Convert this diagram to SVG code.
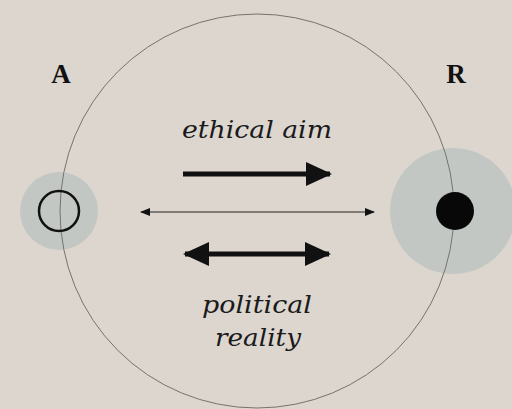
<svg xmlns="http://www.w3.org/2000/svg" width="512" height="409" viewBox="0 0 512 409">
<defs>
<style>
.lbl{font-family:"Liberation Serif","DejaVu Serif",serif;font-weight:bold;font-size:27px;fill:#111;text-anchor:middle}
.it{font-family:"DejaVu Serif",serif;font-style:italic;font-size:25px;fill:#1a1a1a;text-anchor:middle}
.halo{fill:#c3c7c4}
.thick{stroke:#111;stroke-width:5;fill:none}
.thin{stroke:#222;stroke-width:1.2;fill:none}
</style>
<marker id="bigEnd" markerUnits="userSpaceOnUse" markerWidth="26" markerHeight="26" viewBox="0 0 26 26" refX="24" refY="13" orient="auto">
<path d="M0,1 L26,13 L0,25 Z" fill="#111"/>
</marker>
<marker id="bigStart" markerUnits="userSpaceOnUse" markerWidth="26" markerHeight="26" viewBox="0 0 26 26" refX="2" refY="13" orient="auto">
<path d="M26,1 L0,13 L26,25 Z" fill="#111"/>
</marker>
<marker id="smEnd" markerUnits="userSpaceOnUse" markerWidth="10" markerHeight="10" viewBox="0 0 10 10" refX="9" refY="5" orient="auto">
<path d="M0,1 L10,5 L0,9 Z" fill="#111"/>
</marker>
<marker id="smStart" markerUnits="userSpaceOnUse" markerWidth="10" markerHeight="10" viewBox="0 0 10 10" refX="1" refY="5" orient="auto">
<path d="M10,1 L0,5 L10,9 Z" fill="#111"/>
</marker>
</defs>
<rect x="0" y="0" width="512" height="409" fill="#dcd6cf"/>
<g id="halos">
<circle class="halo" cx="59" cy="211" r="39"/>
<circle class="halo" cx="453" cy="211" r="63"/>
</g>
<g id="field">
<circle cx="257" cy="211" r="197" fill="none" stroke="#77726d" stroke-width="1"/>
</g>
<g id="node-A">
<circle cx="59" cy="211" r="20" fill="none" stroke="#111" stroke-width="2.5"/>
<text class="lbl" x="61" y="83">A</text>
</g>
<g id="node-R">
<circle cx="455" cy="211" r="19" fill="#080808"/>
<text class="lbl" x="456" y="83">R</text>
</g>
<g id="connectors">
<line class="thick" x1="183" y1="174" x2="330" y2="174" marker-end="url(#bigEnd)"/>
<line class="thin" x1="141" y1="212" x2="374" y2="212" marker-start="url(#smStart)" marker-end="url(#smEnd)"/>
<line class="thick" x1="185" y1="254" x2="329" y2="254" marker-start="url(#bigStart)" marker-end="url(#bigEnd)"/>
</g>
<g id="labels">
<text class="it" x="257" y="138" textLength="150" lengthAdjust="spacingAndGlyphs">ethical aim</text>
<text class="it" x="257" y="313" textLength="110" lengthAdjust="spacingAndGlyphs">political</text>
<text class="it" x="258" y="346" textLength="86" lengthAdjust="spacingAndGlyphs">reality</text>
</g>
</svg>
